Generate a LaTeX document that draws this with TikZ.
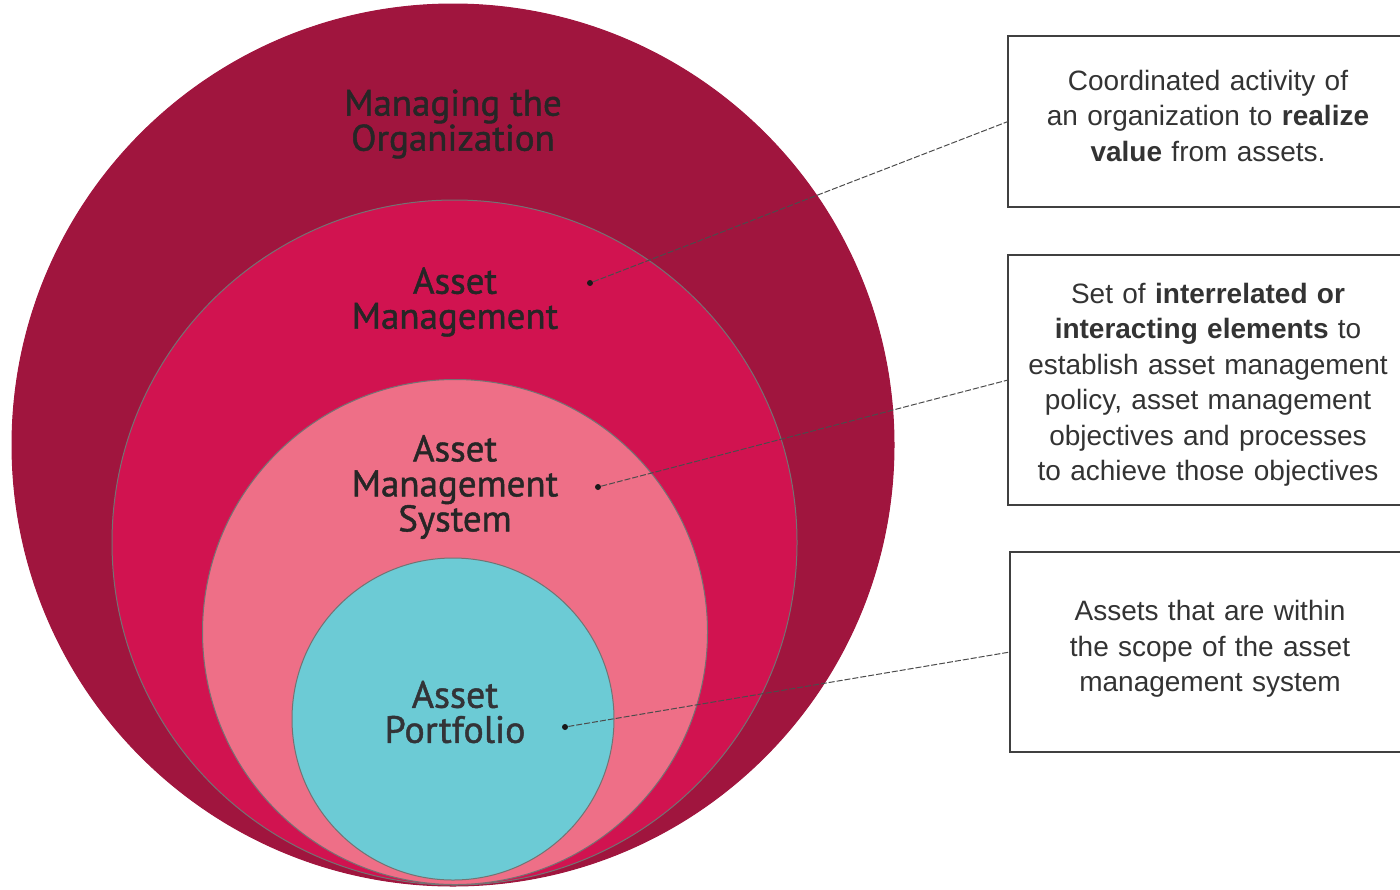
\documentclass[tikz,border=0pt]{standalone}
\usepackage{fontspec}
\setmainfont{Liberation Sans}
\newfontfamily\ringfont[FakeBold=1.2]{PT Sans}
\usetikzlibrary{positioning}

\definecolor{orgRed}{HTML}{A0153E}
\definecolor{amRed}{HTML}{D11350}
\definecolor{amsPink}{HTML}{EE6F87}
\definecolor{apCyan}{HTML}{6CCBD5}

\begin{document}
\begin{tikzpicture}[x=0.5pt, y=-0.5pt,
    ring/.style={circle, inner sep=0pt, outer sep=0pt, draw=black!55, line width=0.5pt},
    ringlabel/.style={font=\ringfont\fontsize{18.5}{17.5}\selectfont, align=center, text=black!85},
    infobox/.style={draw=black!75, line width=0.7pt, anchor=west, inner sep=0pt, outer sep=0pt,
        text width=200pt, minimum width=200pt, align=center, text=black!80,
        font=\fontsize{14}{17.75}\selectfont},
    pin/.style={circle, fill=black!90, inner sep=0pt, minimum size=3pt},
    leader/.style={draw=black!70, line width=0.5pt, dash pattern=on 3pt off 1pt}]
    \useasboundingbox (0,0) rectangle (1400,889);

    % nested rings
    \node[ring, fill=orgRed, draw=orgRed, minimum size=441pt] (orgC) at (453,445) {};
    \node[ring, fill=amRed, minimum size=342.5pt] (amC) at (454.5,542.5) {};
    \node[ring, fill=amsPink, minimum size=252.5pt] (amsC) at (455,632) {};
    \node[ring, fill=apCyan, minimum size=161pt] (apC) at (453,719) {};

    \node[ringlabel] (orgT) at (453,124) {Managing the\\Organization};
    \node[ringlabel] (amT) at (455,302) {Asset\\Management};
    \node[ringlabel] (amsT) at (455,487) {Asset\\Management\\System};
    \node[ringlabel, text=black!90!cyan, font=\ringfont\fontsize{19}{17.5}\selectfont] (apT) at (455,712) {Asset\\Portfolio};

    \node[pin] (amP) at (590,283) {};
    \node[pin] (amsP) at (598,487) {};
    \node[pin] (apP) at (565,727) {};

    % definitions
    \node[infobox, minimum height=85.5pt] (amBox) at (1008,121.5)
        {Coordinated activity of\\an organization to \textbf{realize}\\\textbf{value} from assets.\\[-12pt]\mbox{}};
    \node[infobox, minimum height=125pt] (amsBox) at (1008,380)
        {\mbox{}\\[-2.75pt]Set of \textbf{interrelated or}\\\textbf{interacting elements} to\\establish asset management\\policy, asset management\\objectives and processes\\to achieve those objectives};
    \node[infobox, minimum height=100pt] (apBox) at (1010,652)
        {Assets that are within\\the scope of the asset\\management system\\[-12pt]\mbox{}};

    \draw[leader] (amP) -- (amBox.west);
    \draw[leader] (amsP) -- (amsBox.west);
    \draw[leader] (apP) -- (apBox.west);
\end{tikzpicture}
\end{document}
